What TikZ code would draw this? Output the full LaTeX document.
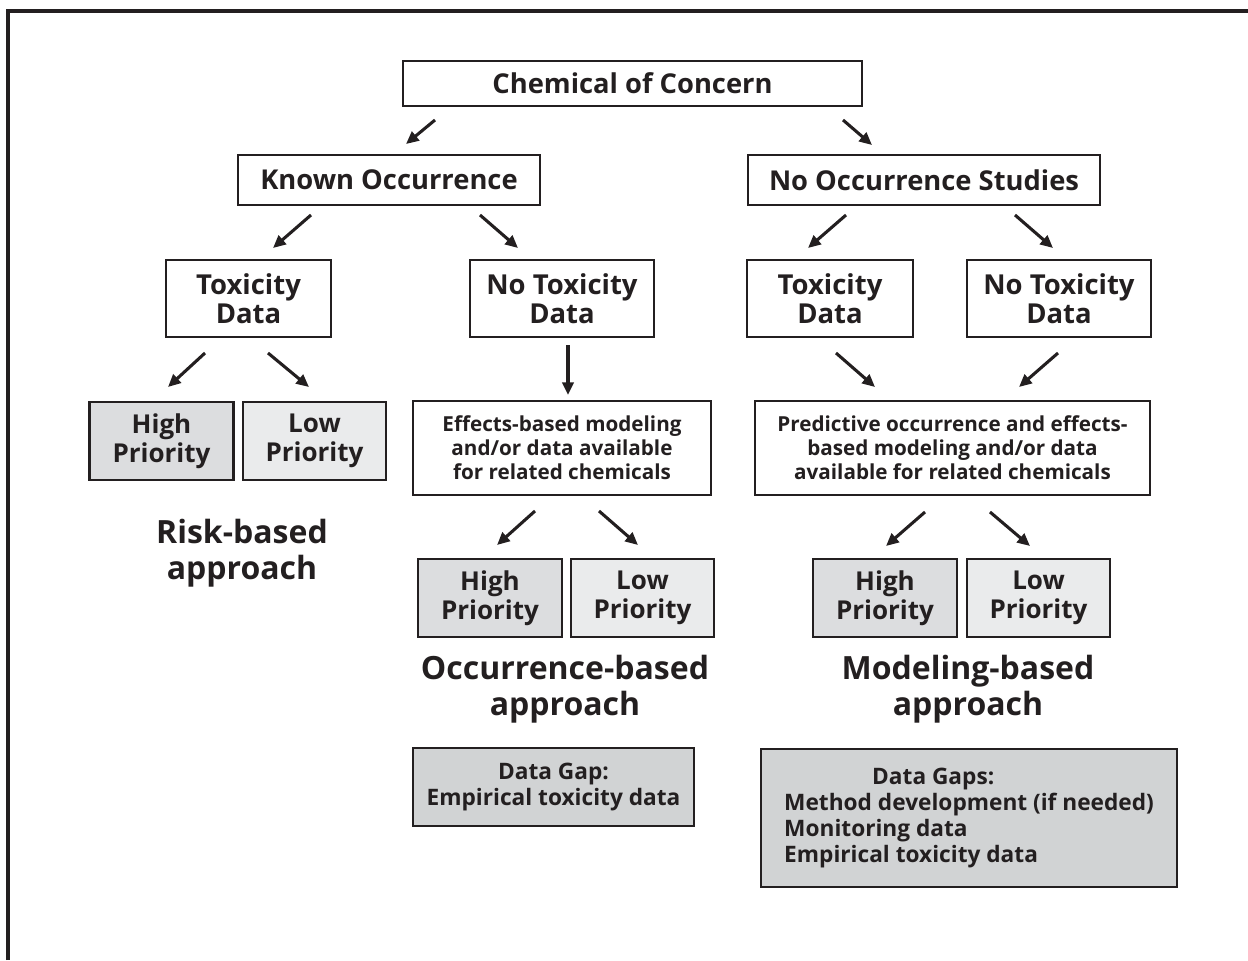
\documentclass[tikz,border=0pt]{standalone}
\usepackage{fontspec}
\setmainfont{Open Sans}
\usetikzlibrary{arrows.meta}
\definecolor{ink}{HTML}{231F20}
\definecolor{highfill}{HTML}{DCDDDF}
\definecolor{lowfill}{HTML}{EAEBEC}
\definecolor{gapfill}{HTML}{D1D3D4}
\begin{document}
\begin{tikzpicture}[x=0.75pt,y=-0.75pt,
  box/.style={draw=ink, line width=2pt, text=ink, align=center, inner sep=0pt},
  titlebox/.style={box, font=\bfseries\fontsize{20.5}{24}\selectfont},
  bigbox/.style={box, minimum height=57.75pt, font=\bfseries\fontsize{20.6}{21.5}\selectfont},
  prio/.style={box, minimum height=58.5pt, font=\bfseries\fontsize{19.5}{21.5}\selectfont},
  highbox/.style={prio, fill=highfill, minimum width=108pt},
  lowbox/.style={prio, fill=lowfill, minimum width=107.25pt},
  textbox/.style={box, minimum height=70.5pt, font=\bfseries\fontsize{15.5}{18}\selectfont},
  gapbox/.style={box, fill=gapfill, font=\bfseries\fontsize{17}{20}\selectfont},
  approach/.style={text=ink, align=center, inner sep=0pt, font=\bfseries\fontsize{24}{27}\selectfont},
  arr/.style={draw=ink, line width=2.3pt, -{Triangle[length=9.5pt,width=8.5pt]}}
]
\useasboundingbox (0,0) rectangle (1248,960);
% partial outer frame
\draw[ink, line width=2.3pt] (8,960) -- (8,11) -- (1248,11);

% top levels
\node[titlebox, minimum width=344.25pt, minimum height=33.75pt] (chem) at (632.5,83.5) {Chemical of Concern};
\node[titlebox, minimum width=226.5pt, minimum height=37.5pt] (known) at (389,180) {Known Occurrence};
\node[titlebox, minimum width=264pt, minimum height=37.5pt] (noocc) at (924,180) {No Occurrence Studies};

% toxicity level
\node[bigbox, minimum width=123.75pt] (toxl) at (248.5,298.5) {Toxicity\\Data};
\node[bigbox, minimum width=138pt] (notoxl) at (562,298.5) {No Toxicity\\Data};
\node[bigbox, minimum width=124.5pt] (toxr) at (830,298.5) {Toxicity\\Data};
\node[bigbox, minimum width=138pt] (notoxr) at (1059,298.5) {No Toxicity\\Data};

% risk-based branch
\node[highbox] (high1) at (161.5,441) {High\\Priority};
\node[lowbox] (low1) at (314.5,441) {Low\\Priority};
\node[approach] (risk) at (242,553) {Risk-based\\approach};

% occurrence-based branch
\node[textbox, minimum width=223.5pt] (effects) at (562,448) {Effects-based modeling\\and/or data available\\for related chemicals};
\node[highbox] (high2) at (490,598) {High\\Priority};
\node[lowbox] (low2) at (642.5,598) {Low\\Priority};
\node[approach] (occ) at (565,689) {Occurrence-based\\approach};
\node[gapbox, minimum width=210.75pt, minimum height=58.5pt] (gap1) at (553.5,787) {Data Gap:\\Empirical toxicity data};

% modeling-based branch
\node[textbox, minimum width=296.25pt] (pred) at (952.5,448) {Predictive occurrence and effects-\\based modeling and/or data\\available for related chemicals};
\node[highbox] (high3) at (885,598) {High\\Priority};
\node[lowbox] (low3) at (1038.5,598) {Low\\Priority};
\node[approach] (model) at (968,689) {Modeling-based\\approach};
\node[gapbox, minimum width=312pt, minimum height=103.5pt, align=left, font=\bfseries\fontsize{17}{19.5}\selectfont] (gap2) at (969,818)
  {\hspace*{66pt}Data Gaps:\\Method development (if needed)\\Monitoring data\\Empirical toxicity data};

% connector end points
\coordinate (c1a) at (435,120);  \coordinate (c1b) at (406,144);
\coordinate (c2a) at (843,120);  \coordinate (c2b) at (872,145);
\coordinate (k1a) at (311,215);  \coordinate (k1b) at (273,248);
\coordinate (k2a) at (480,215);  \coordinate (k2b) at (518,248);
\coordinate (n1a) at (846,215);  \coordinate (n1b) at (808,248);
\coordinate (n2a) at (1015,215); \coordinate (n2b) at (1053,248);
\coordinate (t1a) at (205,353);  \coordinate (t1b) at (168,387);
\coordinate (t2a) at (268,353);  \coordinate (t2b) at (309,387);
\coordinate (va) at (568,345);   \coordinate (vb) at (568,395);
\coordinate (r1a) at (836,353);  \coordinate (r1b) at (875,387);
\coordinate (r2a) at (1058,353); \coordinate (r2b) at (1019,387);
\coordinate (e1a) at (535,511);  \coordinate (e1b) at (497,545);
\coordinate (e2a) at (599,511);  \coordinate (e2b) at (638,545);
\coordinate (p1a) at (925,512);  \coordinate (p1b) at (886,546);
\coordinate (p2a) at (990,512);  \coordinate (p2b) at (1030,546);

% connectors
\foreach \a/\b in {c1a/c1b, c2a/c2b, k1a/k1b, k2a/k2b, n1a/n1b, n2a/n2b,
                   t1a/t1b, t2a/t2b, va/vb, r1a/r1b, r2a/r2b,
                   e1a/e1b, e2a/e2b, p1a/p1b, p2a/p2b}
  \draw[arr] (\a) -- (\b);
\end{tikzpicture}
\end{document}
